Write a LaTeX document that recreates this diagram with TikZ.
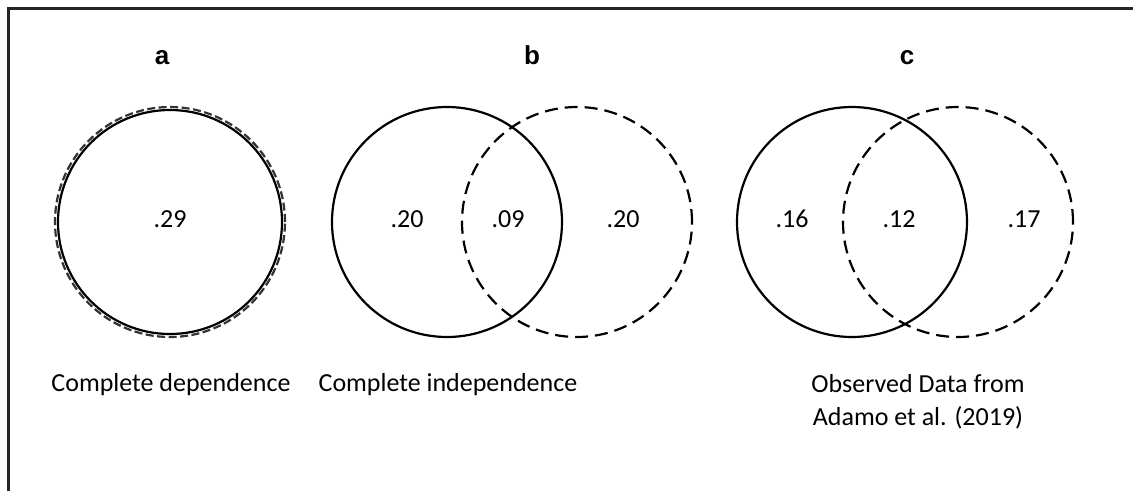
\documentclass[tikz,border=0pt]{standalone}
\usepackage{fontspec}
\setmainfont{Carlito}
\newfontfamily\headfont{Liberation Sans}
\tikzset{
  setA/.style={circle, draw=black, line width=2.2pt, inner sep=0pt, minimum size=230pt},
  setB/.style={circle, draw=black, line width=2.2pt, inner sep=0pt, minimum size=230pt,
               dash pattern=on 13pt off 7pt},
  setBtight/.style={circle, draw=black!80, line width=2.2pt, inner sep=0pt, minimum size=230pt,
               dash pattern=on 8pt off 3.5pt},
  val/.style={font=\fontsize{26}{29}\selectfont, inner sep=0pt, anchor=base},
  caption/.style={font=\fontsize{26}{33}\selectfont, align=center, inner sep=0pt, anchor=base},
  head/.style={font=\headfont\bfseries\fontsize{26}{30}\selectfont, inner sep=0pt, anchor=base}
}
\begin{document}
\begin{tikzpicture}[x=1pt, y=-1pt]
  \fill[white] (0,0) rectangle (1133,491);
  \useasboundingbox (0,0) rectangle (1133,491);
  % frame: top and left edges
  \coordinate (fBL) at (8.5,491);
  \coordinate (fTL) at (8.5,8.5);
  \coordinate (fTR) at (1133,8.5);
  \draw[line width=2.5pt, black!85] (fBL) -- (fTL) -- (fTR);

  % panel a: complete dependence
  \node[head] (ha) at (162,64) {a};
  \node[setBtight] (aB) at (170,222) {};
  \node[setA, minimum size=224pt] (aA) at (170,222) {};
  \node[val] (va) at (170,227) {.29};
  \node[caption] (ca) at (171,391) {Complete dependence};

  % panel b: complete independence
  \node[head] (hb) at (532,64) {b};
  \node[setA] (bA) at (447,222) {};
  \node[setB] (bB) at (577,222) {};
  \node[val] (vb1) at (407,227) {.20};
  \node[val] (vb2) at (508,227) {.09};
  \node[val] (vb3) at (623,227) {.20};
  \node[caption] (cb) at (448,391) {Complete independence};

  % panel c: observed data
  \node[head] (hc) at (907,64) {c};
  \node[setA] (cA) at (852,222) {};
  \node[setB] (cB) at (958,222) {};
  \node[val] (vc1) at (792,227) {.16};
  \node[val] (vc2) at (899,227) {.12};
  \node[val] (vc3) at (1024,227) {.17};
  \node[caption] (cc) at (918,425) {Observed Data from\\Adamo et al. (2019)};
\end{tikzpicture}
\end{document}
